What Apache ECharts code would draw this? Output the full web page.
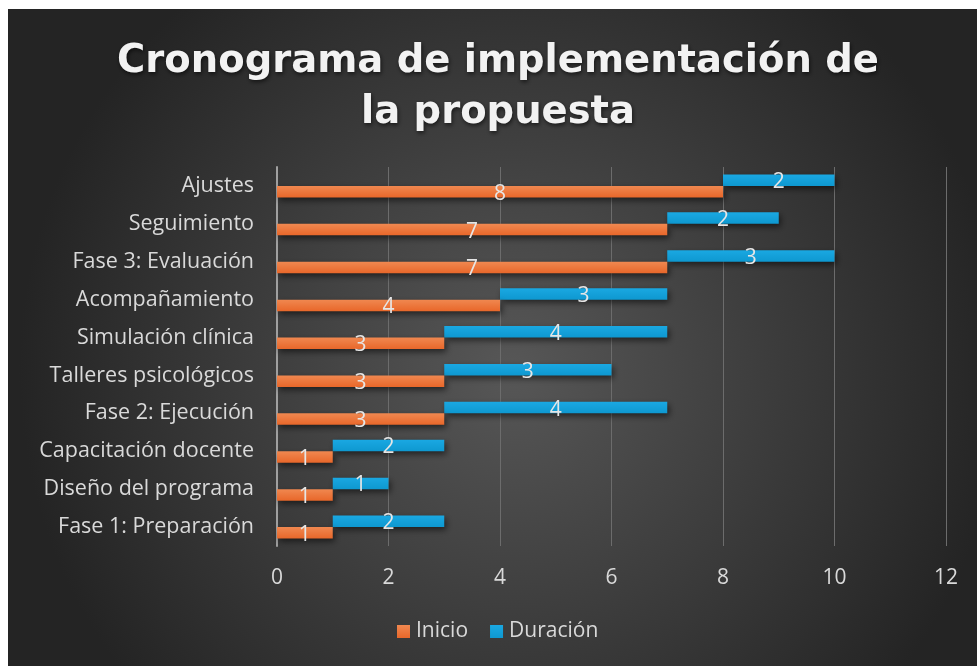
<!DOCTYPE html>
<html>
<head>
<meta charset="utf-8">
<script src="https://cdn.jsdelivr.net/npm/echarts@6/dist/echarts.min.js"></script>
<style>
  html, body { margin: 0; padding: 0; background: #ffffff; }
  #chart { position: absolute; left: 8px; top: 9px; width: 969px; height: 657px; }
</style>
</head>
<body>
<div id="chart"></div>
<script>
const categories = ['Fase 1: Preparación', 'Diseño del programa', 'Capacitación docente', 'Fase 2: Ejecución', 'Talleres psicológicos', 'Simulación clínica', 'Acompañamiento', 'Fase 3: Evaluación', 'Seguimiento', 'Ajustes'];
const inicio = [1, 1, 1, 3, 3, 3, 4, 7, 7, 8];
const duracion = [2, 1, 2, 4, 3, 4, 3, 3, 2, 2];
const xTicks = [0, 2, 4, 6, 8, 10, 12];
const titleText = 'Cronograma de implementación de\nla propuesta';

const labelFont = 'Open Sans';
const chart = echarts.init(document.getElementById('chart'), null, { renderer: 'canvas' });
const barShadow = { shadowColor: 'rgba(0,0,0,0.55)', shadowBlur: 6, shadowOffsetX: 2, shadowOffsetY: 3 };

chart.setOption({
  backgroundColor: {
    type: 'radial', x: 0.52, y: 0.55, r: 0.75,
    colorStops: [{ offset: 0, color: '#575757' }, { offset: 1, color: '#242424' }]
  },
  title: {
    text: titleText,
    left: 485,
    textAlign: 'center',
    top: 22,
    padding: 5,
    textStyle: {
      fontFamily: 'DejaVu Sans', fontWeight: 'bold', fontSize: 38.5, lineHeight: 51,
      color: '#f2f2f2',
      textShadowColor: 'rgba(0,0,0,0.6)', textShadowBlur: 4, textShadowOffsetX: 1, textShadowOffsetY: 2
    }
  },
  legend: {
    data: ['Inicio', 'Duración'],
    top: 607,
    left: 384,
    icon: 'rect',
    itemWidth: 13, itemHeight: 13, itemGap: 22,
    textStyle: { color: '#d9d9d9', fontSize: 21, fontFamily: labelFont, padding: [0, 0, 0, 1] }
  },
  grid: { left: 269, right: 31, top: 158, bottom: 120, containLabel: false },
  xAxis: {
    type: 'value', min: 0, max: 12, interval: 2,
    axisLine: { show: false },
    axisTick: { show: false },
    splitLine: { show: true, lineStyle: { color: '#6c6c6c', width: 1 } },
    axisLabel: {
      color: '#d9d9d9', fontSize: 21, fontFamily: labelFont, margin: 22,
      formatter: v => (xTicks.indexOf(v) >= 0 ? String(v) : '')
    }
  },
  yAxis: {
    type: 'category', data: categories,
    axisLine: { show: true, lineStyle: { color: '#a0a0a0', width: 2 } },
    axisTick: { show: false },
    axisLabel: { color: '#d9d9d9', fontSize: 21.5, fontFamily: labelFont, margin: 23 }
  },
  series: [
    {
      name: 'placeholder', type: 'bar', stack: 'dur', data: inicio,
      barWidth: 11.5, barGap: '0%',
      itemStyle: { color: 'rgba(0,0,0,0)' },
      silent: true, label: { show: false }, emphasis: { disabled: true }, tooltip: { show: false }
    },
    {
      name: 'Duración', type: 'bar', stack: 'dur', data: duracion,
      barWidth: 11.5,
      itemStyle: Object.assign({
        color: { type: 'linear', x: 0, y: 0, x2: 0, y2: 1,
          colorStops: [{ offset: 0, color: '#1aa8e2' }, { offset: 1, color: '#0e98d0' }] }
      }, barShadow),
      label: { show: true, position: 'inside', color: '#e6e6e6', fontSize: 21, fontFamily: labelFont, offset: [0, 2] }
    },
    {
      name: 'Inicio', type: 'bar', data: inicio,
      barWidth: 11.5, barGap: '0%',
      itemStyle: Object.assign({
        color: { type: 'linear', x: 0, y: 0, x2: 0, y2: 1,
          colorStops: [{ offset: 0, color: '#f08850' }, { offset: 1, color: '#e8672a' }] }
      }, barShadow),
      label: { show: true, position: 'inside', color: '#e6e6e6', fontSize: 21, fontFamily: labelFont, offset: [0, 2] }
    }
  ]
});
</script>
</body>
</html>
